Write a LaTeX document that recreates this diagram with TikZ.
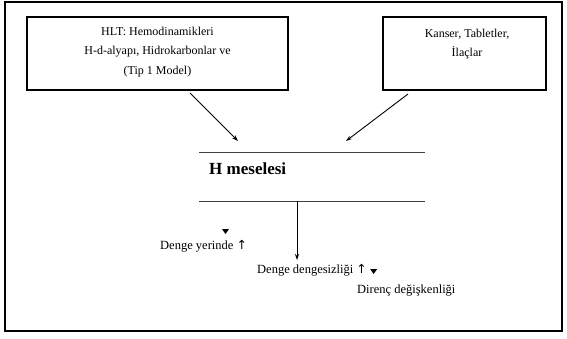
\documentclass[tikz,border=0pt]{standalone}
\usepackage{fontspec}
\setmainfont{Liberation Serif}
\newfontfamily\symfont{DejaVu Sans}
\usetikzlibrary{arrows.meta}
\begin{document}
\begin{tikzpicture}[x=1pt,y=-1pt,
  frame/.style={draw=black,line width=1.4pt},
  srcbox/.style={draw=black,line width=1.3pt},
  boxtext/.style={font=\fontsize{12}{19.5}\selectfont,align=center,inner sep=0pt},
  label/.style={font=\fontsize{12.5}{14}\selectfont,anchor=west,inner sep=0pt},
  feed/.style={draw=black,line width=0.9pt,-{Stealth[length=6pt,width=4pt]}},
  rule/.style={draw=black!75,line width=0.8pt},
  tick/.style={fill=black}]
  \useasboundingbox (0,0) rectangle (567,338);
  \fill[white] (0,0) rectangle (567,338);
  % outer frame
  \draw[frame] (5,2) rectangle (562,331);

  % source boxes
  \draw[srcbox] (27,17) rectangle (288,90);
  \node[boxtext] (a) at (157.5,52) {HLT: Hemodinamikleri\\H-d-alyapı, Hidrokarbonlar ve\\(Tip 1 Model)};
  \coordinate (aout) at (190,93);

  \draw[srcbox] (383,17) rectangle (546,90);
  \node[boxtext] (b) at (467,44) {Kanser, Tabletler,\\İlaçlar};
  \coordinate (bout) at (408,94);

  % central band
  \coordinate (t1) at (199,152);
  \coordinate (t2) at (425,152);
  \coordinate (u1) at (199,201);
  \coordinate (u2) at (425,201);
  \draw[rule] (t1) -- (t2);
  \draw[rule] (u1) -- (u2);
  \node[font=\fontsize{17}{19}\selectfont\bfseries,anchor=west,inner sep=0pt] (h) at (209,169) {H meselesi};
  \coordinate (ain) at (238,141);
  \coordinate (bin) at (346,141);
  \draw[feed] (aout) -- (ain);
  \draw[feed] (bout) -- (bin);

  % outcomes
  \coordinate (vtop) at (297,201);
  \coordinate (vbot) at (297,260);
  \draw[feed] (vtop) -- (vbot);
  \fill[tick] (222,229) -- (229,229) -- (225.5,234) -- cycle;
  \node[label] (c1) at (160,246) {Denge yerinde {\symfont ↑}};
  \node[label] (c2) at (257,270) {Denge dengesizliği {\symfont ↑}};
  \fill[tick] ([xshift=3pt,yshift=1pt]c2.east) -- ++(7,0) -- ++(-3.5,5) -- cycle;
  \node[label] (c3) at (357,291) {Direnç değişkenliği};
\end{tikzpicture}
\end{document}
